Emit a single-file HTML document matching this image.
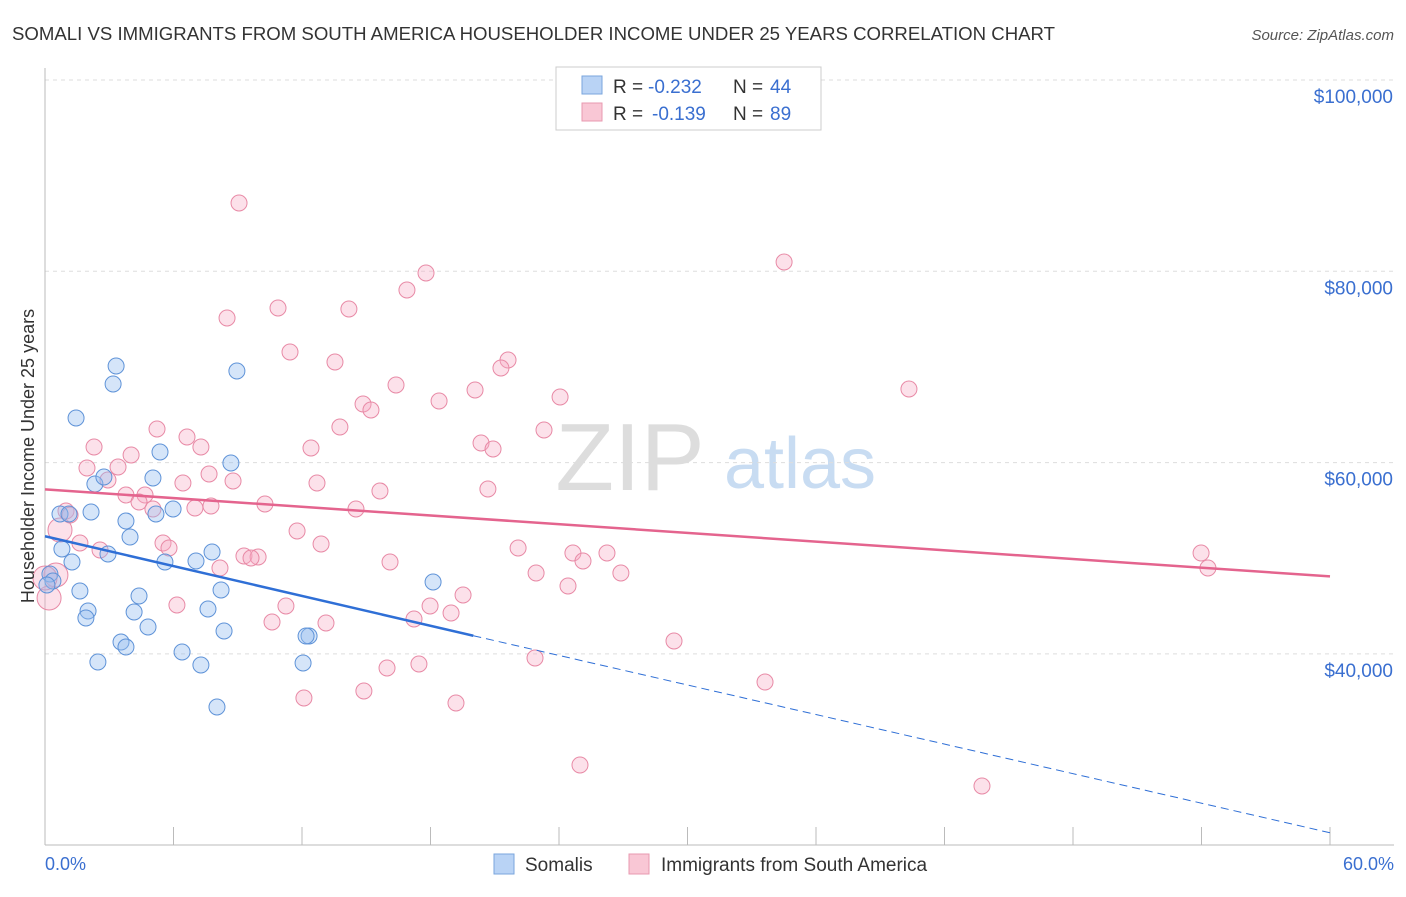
<!DOCTYPE html>
<html><head><meta charset="utf-8"><style>
body{margin:0;background:#fff;font-family:"Liberation Sans",sans-serif}
svg text{font-family:"Liberation Sans",sans-serif}
</style></head><body>
<svg id="c" width="1406" height="892">
<text x="12" y="40" font-size="18" fill="#333" textLength="1043" lengthAdjust="spacingAndGlyphs">SOMALI VS IMMIGRANTS FROM SOUTH AMERICA HOUSEHOLDER INCOME UNDER 25 YEARS CORRELATION CHART</text>
<text x="1394" y="40" font-size="15" fill="#555" font-style="italic" text-anchor="end">Source: ZipAtlas.com</text>
<text x="630" y="490" font-size="96" fill="#ddd" font-family="Liberation Serif" text-anchor="middle">ZIP</text>
<text x="800" y="488" font-size="72" fill="#c8dcf2" text-anchor="middle">atlas</text>
<g id="grid"></g><g id="pts"></g><g id="trend"></g>
<text transform="translate(34,456) rotate(-90)" font-size="18" fill="#333" text-anchor="middle">Householder Income Under 25 years</text>
<text x="45" y="870" font-size="18" fill="#3a6fd0">0.0%</text>
<text x="1394" y="870" font-size="18" fill="#3a6fd0" text-anchor="end">60.0%</text>
<g>
<rect x="556" y="67" width="265" height="63" fill="#fff" stroke="#ccc"/>
<rect x="582" y="76" width="20" height="18" fill="#b9d3f5" stroke="#7aa6dd"/>
<rect x="582" y="103" width="20" height="18" fill="#f9c7d5" stroke="#e89ab0"/>
<text x="613" y="93" font-size="19" fill="#333">R =</text>
<text x="648" y="93" font-size="19" fill="#3a6fd0">-0.232</text>
<text x="733" y="93" font-size="19" fill="#333">N =</text>
<text x="770" y="93" font-size="19" fill="#3a6fd0">44</text>
<text x="613" y="120" font-size="19" fill="#333">R =</text>
<text x="652" y="120" font-size="19" fill="#3a6fd0">-0.139</text>
<text x="733" y="120" font-size="19" fill="#333">N =</text>
<text x="770" y="120" font-size="19" fill="#3a6fd0">89</text>
</g>
<g>
<rect x="494" y="854" width="20" height="20" fill="#b9d3f5" stroke="#7aa6dd"/>
<text x="525" y="871" font-size="19" fill="#333">Somalis</text>
<rect x="629" y="854" width="20" height="20" fill="#f9c7d5" stroke="#e89ab0"/>
<text x="661" y="871" font-size="19" fill="#333">Immigrants from South America</text>
</g>
</svg>
<script>
const somaliPx=[[116,366],[113,384],[76,418],[237,371],[160,452],[231,463],[153,478],[95,484],[104,477],[60,514],[69,514],[91,512],[156,514],[173,509],[126,521],[130,537],[62,549],[108,554],[72,562],[165,562],[212,552],[196,561],[50,574],[53,581],[80,591],[139,596],[221,590],[88,611],[134,612],[208,609],[86,618],[148,627],[224,631],[121,642],[126,647],[182,652],[309,636],[306,636],[98,662],[201,665],[303,663],[217,707],[433,582],[47,585]];
const southAmPx=[[239,203],[784,262],[426,273],[407,290],[227,318],[278,308],[349,309],[290,352],[335,362],[508,360],[501,368],[909,389],[396,385],[475,390],[560,397],[439,401],[363,404],[371,410],[340,427],[157,429],[187,437],[544,430],[481,443],[493,449],[94,447],[201,447],[311,448],[131,455],[87,468],[118,467],[209,474],[108,480],[233,481],[183,483],[317,483],[488,489],[380,491],[126,495],[145,495],[139,502],[265,504],[153,509],[211,506],[195,508],[356,509],[66,511],[70,515],[60,530],[297,531],[80,543],[163,543],[169,548],[321,544],[518,548],[244,556],[258,557],[251,558],[100,550],[573,553],[607,553],[390,562],[583,561],[220,568],[536,573],[621,573],[568,586],[1201,553],[1208,568],[463,595],[286,606],[177,605],[430,606],[414,619],[451,613],[272,622],[326,623],[674,641],[535,658],[387,668],[419,664],[765,682],[364,691],[304,698],[456,703],[580,765],[982,786],[49,598],[56,575],[45,578]];
const somaliX=somaliPx.map(p=>+((p[0]-45)/1285*60).toFixed(2));
const somaliY=somaliPx.map(p=>Math.round(100000-(p[1]-80)/191.3*20000));
const southAmX=southAmPx.map(p=>+((p[0]-45)/1285*60).toFixed(2));
const southAmY=southAmPx.map(p=>Math.round(100000-(p[1]-80)/191.3*20000));
const yTicks=[100000,80000,60000,40000];
const yTickLabels=["$100,000","$80,000","$60,000","$40,000"];
const xTicks=[0,6,12,18,24,30,36,42,48,54,60];
const blueTrend=[[0,52300],[20,41900],[60,21300]];
const pinkTrend=[[0,57200],[60,48100]];

const sx=v=>45+v/60*1285, sy=v=>80+(100000-v)/20000*191.3;
const NS="http://www.w3.org/2000/svg";
function mk(t,a,p){const e=document.createElementNS(NS,t);for(const k in a)e.setAttribute(k,a[k]);p.appendChild(e);return e;}
const g=document.getElementById('grid');
yTicks.forEach((v,i)=>{
 const l=mk('line',{x1:45,x2:1394,y1:sy(v),y2:sy(v),stroke:'#ddd','stroke-dasharray':'4,4'},g);
 
 
 const t=mk('text',{x:1393,y:sy(v)+23,'font-size':19,fill:'#3a6fd0','text-anchor':'end'},g);
 t.textContent=yTickLabels[i];
 
 
});
const ax=mk('line',{x1:45,x2:45,y1:68,y2:845,stroke:'#bbb'},g);


const bx=mk('line',{x1:45,x2:1394,y1:845,y2:845,stroke:'#bbb'},g);


xTicks.forEach(v=>{
 const l=mk('line',{x1:sx(v),x2:sx(v),y1:827,y2:845,stroke:'#bbb'},g);
 
 
});
const pg=document.getElementById('pts');
southAmX.forEach((x,i)=>{
 const big=i>=southAmX.length-3||i===47;
 const c=mk('circle',{cx:sx(x),cy:sy(southAmY[i]),r:big?12:8,fill:'rgba(245,170,195,0.35)',stroke:'#e88aa6','stroke-width':1},pg);
 
 
});
somaliX.forEach((x,i)=>{
 const c=mk('circle',{cx:sx(x),cy:sy(somaliY[i]),r:8,fill:'rgba(150,190,240,0.4)',stroke:'#5f93d8','stroke-width':1},pg);
 
 
});
const tg=document.getElementById('trend');
const b1=mk('line',{x1:sx(blueTrend[0][0]),y1:sy(blueTrend[0][1]),x2:sx(blueTrend[1][0]),y2:sy(blueTrend[1][1]),stroke:'#2f6fd6','stroke-width':2.5},tg);


const b2=mk('line',{x1:sx(blueTrend[1][0]),y1:sy(blueTrend[1][1]),x2:sx(blueTrend[2][0]),y2:sy(blueTrend[2][1]),stroke:'#2f6fd6','stroke-width':1,'stroke-dasharray':'8,5'},tg);


const p1=mk('line',{x1:sx(pinkTrend[0][0]),y1:sy(pinkTrend[0][1]),x2:sx(pinkTrend[1][0]),y2:sy(pinkTrend[1][1]),stroke:'#e4648e','stroke-width':2.5},tg);


</script>
</body></html>
